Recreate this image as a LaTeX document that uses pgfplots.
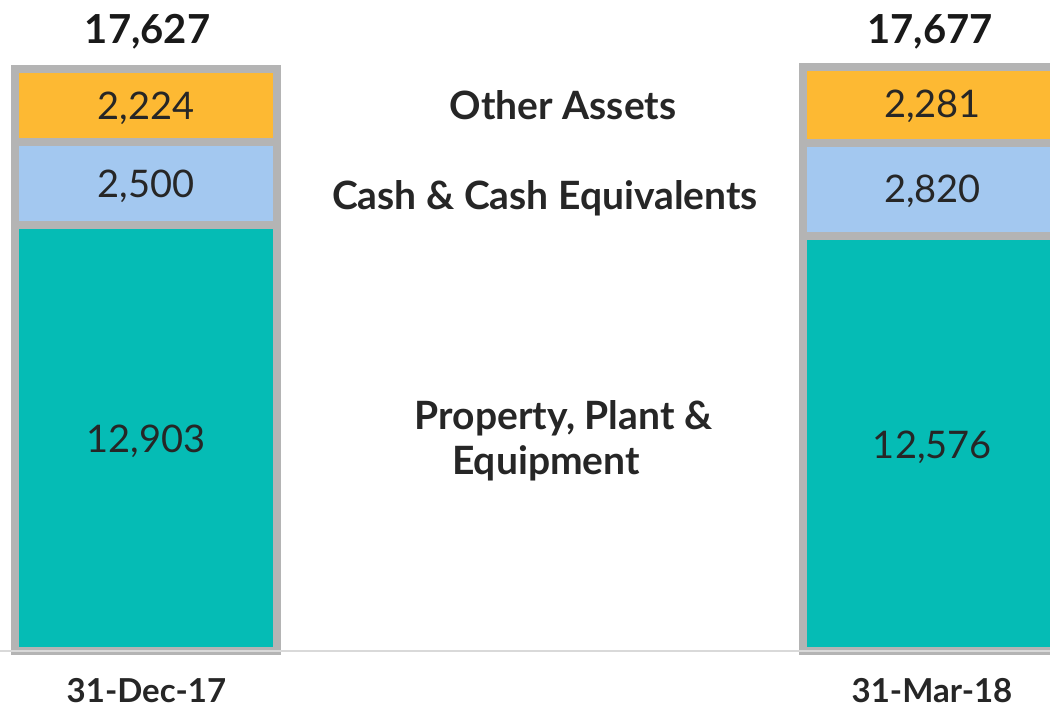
\documentclass[border=0pt]{standalone}
\usepackage{pgfplots}
\pgfplotsset{compat=1.18}
\usepackage{fontspec}
\setmainfont{Lato}
\definecolor{cOr}{HTML}{FDB933}
\definecolor{cBl}{HTML}{A3C8F0}
\definecolor{cTe}{HTML}{05BCB5}
\definecolor{cTx}{HTML}{262626}
\definecolor{cFr}{HTML}{B4B4B4}
\begin{document}
\begin{tikzpicture}
\begin{axis}[
  scale only axis, width=525pt, height=355pt,
  at={(0,0)}, anchor=south west,
  xmin=-0.18528, xmax=1.14721, ymin=-1787, ymax=19716,
  hide axis, ybar stacked, bar width=0.3325,
  clip=true,
  after end axis/.code={
    \tikzset{lab/.style={anchor=base, text=cTx}}
    \node[lab, font=\fontsize{20pt}{24pt}\selectfont\bfseries, text=black!90] at (rel axis cs:0.1405,0.9394) {17,627};
    \node[lab, font=\fontsize{20pt}{24pt}\selectfont\bfseries, text=black!90] at (rel axis cs:0.8857,0.9394) {17,677};
    \node[lab, font=\fontsize{19pt}{22pt}\selectfont] at (rel axis cs:0.139,0.8310) {2,224};
    \node[lab, font=\fontsize{19pt}{22pt}\selectfont] at (rel axis cs:0.888,0.8338) {2,281};
    \node[lab, font=\fontsize{19pt}{22pt}\selectfont] at (rel axis cs:0.139,0.7225) {2,500};
    \node[lab, font=\fontsize{19pt}{22pt}\selectfont] at (rel axis cs:0.888,0.7141) {2,820};
    \node[lab, font=\fontsize{19pt}{22pt}\selectfont] at (rel axis cs:0.139,0.3620) {12,903};
    \node[lab, font=\fontsize{19pt}{22pt}\selectfont] at (rel axis cs:0.888,0.3549) {12,576};
    \node[lab, font=\fontsize{19.5pt}{23pt}\selectfont\bfseries] at (rel axis cs:0.5362,0.8310) {Other Assets};
    \node[lab, font=\fontsize{19.5pt}{23pt}\selectfont\bfseries] at (rel axis cs:0.519,0.7056) {Cash \& Cash Equivalents};
    \node[lab, font=\fontsize{19.5pt}{23pt}\selectfont\bfseries] at (rel axis cs:0.5367,0.3944) {Property, Plant \&};
    \node[lab, font=\fontsize{19.5pt}{23pt}\selectfont\bfseries] at (rel axis cs:0.520,0.3310) {Equipment};
    \node[lab, font=\fontsize{16.5pt}{20pt}\selectfont\bfseries] at (rel axis cs:0.1395,0.0099) {31-Dec-17};
    \node[lab, font=\fontsize{16.5pt}{20pt}\selectfont\bfseries] at (rel axis cs:0.8876,0.0099) {31-Mar-18};
  },
]
\draw[black!15, line width=1pt] (axis cs:-0.18528,0) -- (axis cs:1.14721,0);
\addplot[fill=cTe, draw=cFr, line width=4pt] coordinates {(0,12903) (1,12576)};
\addplot[fill=cBl, draw=cFr, line width=4pt] coordinates {(0,2500) (1,2820)};
\addplot[fill=cOr, draw=cFr, line width=4pt] coordinates {(0,2224) (1,2281)};
\end{axis}
\pgfresetboundingbox
\useasboundingbox (0,0) rectangle (525pt,355pt);
\end{tikzpicture}
\end{document}
